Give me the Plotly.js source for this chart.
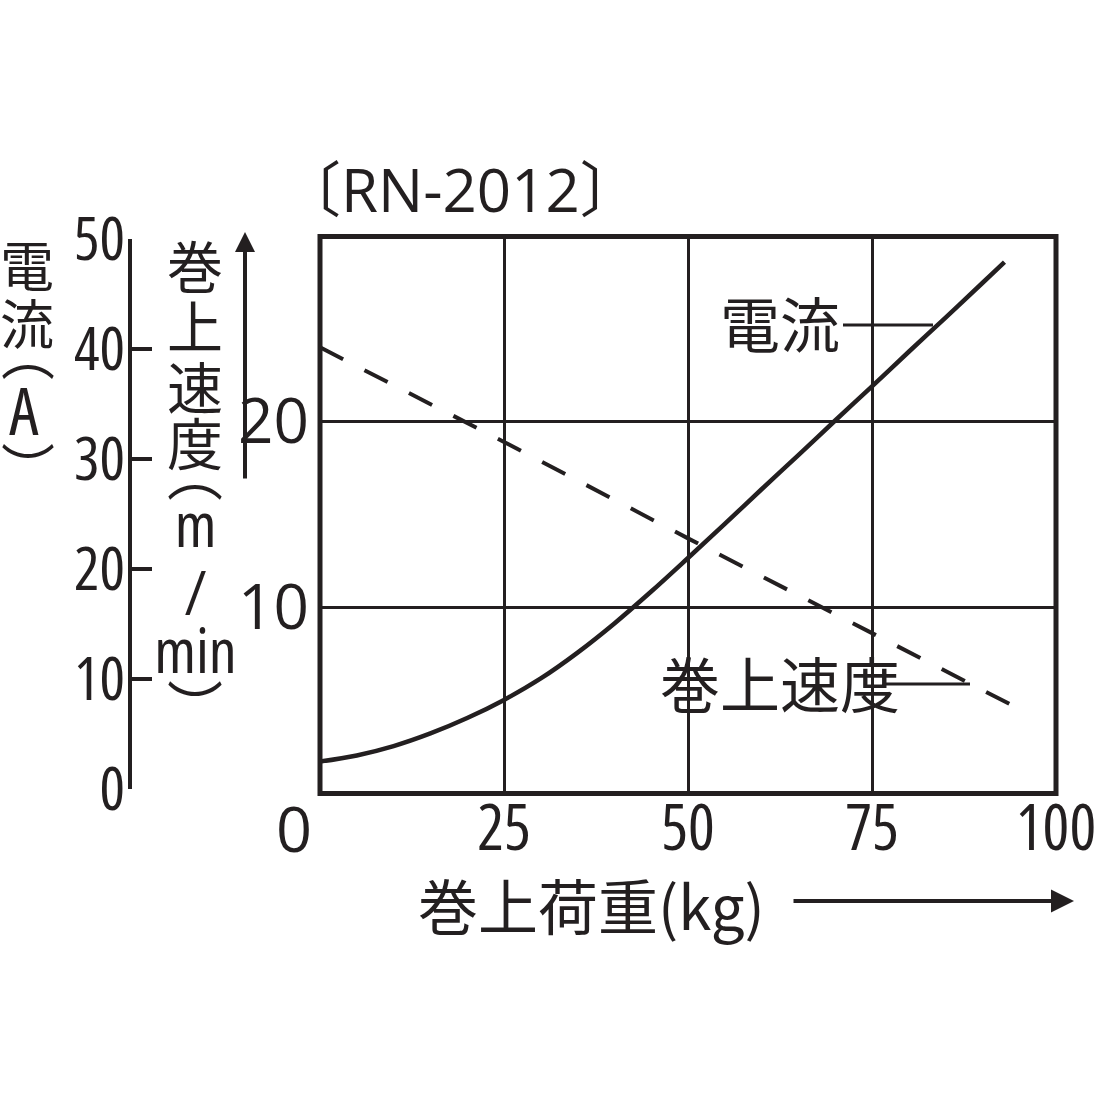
<!DOCTYPE html>
<html>
<head>
<meta charset="utf-8">
<script src="https://cdn.plot.ly/plotly-3.0.1.min.js"></script>
<style>
html,body{margin:0;padding:0;background:#fff;}
#chart{width:1104px;height:1104px;}
#chart svg text{font-stretch:75%;}
#chart g.xtick text{font-stretch:85%;}
#chart g.ytick text{font-stretch:88%;}
#chart g.annotation[data-index="0"] text{font-stretch:88%;}
#chart g.annotation[data-index="1"] text{font-stretch:100%;}
</style>
</head>
<body>
<div id="chart"></div>
<script>
// ---- data ----
const loadKg      = [0, 5, 10, 15, 20, 25, 30, 35, 40, 45, 50, 55, 60, 65, 70, 75, 80, 85, 90, 93];
const currentA    = [2.5, 3.05, 3.9, 5.05, 6.45, 8.1, 10.05, 12.4, 15.05, 17.95, 21.0, 24.1, 27.25, 30.35, 33.5, 36.6, 39.75, 42.85, 46.0, 47.9];
const speedKg     = [0, 25, 50, 75, 96];
const speedMmin   = [24.0, 18.9, 13.7, 8.6, 4.3];
const xTicks      = [25, 50, 75, 100];
const speedTicks  = [10, 20];
const currentTicks= [0, 10, 20, 30, 40, 50];
const title       = '〔RN-2012〕';
const xTitle      = '巻上荷重(kg)';
const currentName = '電流';
const speedName   = '巻上速度';
const currentAxisChars = ['電', '流', '︵', 'A', '︶'];
const speedAxisChars   = ['巻', '上', '速', '度', '︵', 'm', '/', 'min', '︶'];

const W = 1104;
const fx = p => p / W;
const fy = p => 1 - p / W;
const INK = '#231f20';
const LAT = 'Open Sans, Noto Sans CJK JP, sans-serif';
const CJK = 'Noto Sans CJK JP, Noto Sans CJK SC, sans-serif';

const traces = [
  {x: loadKg, y: currentA, yaxis: 'y2', type: 'scatter', mode: 'lines', name: currentName,
   line: {color: INK, width: 4.5, shape: 'spline', smoothing: 1}, hoverinfo: 'skip'},
  {x: speedKg, y: speedMmin, yaxis: 'y', type: 'scatter', mode: 'lines', name: speedName,
   line: {color: INK, width: 4, dash: '26px,24px'}, hoverinfo: 'skip'}
];

const ann = [];
function txt(t, x, y, size, fam, extra) {
  ann.push(Object.assign({text: t, x: fx(x), y: fy(y), xref: 'paper', yref: 'paper',
    xanchor: 'center', yanchor: 'middle', showarrow: false,
    font: {family: fam, size: size, color: INK}}, extra || {}));
}
// title (index 0)
txt(title, 460, 189, 60, LAT);
// x "0" label, offset left of the axis (index 1)
txt('0', 294, 827, 63, LAT);
// x axis title
txt(xTitle, 591, 903, 60, CJK);
// curve labels
txt(currentName, 780, 321, 60, CJK);
txt(speedName, 780, 681, 60, CJK);
// vertical current axis label
const cX = [27, 27, 28, 24, 28];
const cY = [263, 321, 352, 409, 467];
currentAxisChars.forEach((c, i) => {
  const latin = (c === 'A');
  txt(c, cX[i], cY[i], latin ? 66 : 54, latin ? LAT : CJK);
});
// vertical speed axis label
const sY = [263, 324, 384, 441, 471, 523, 591, 649, 704];
speedAxisChars.forEach((c, i) => {
  const latin = /[a-z\/]/.test(c);
  txt(c, 195, sY[i], latin ? 62 : 56, latin ? LAT : CJK);
});
// arrows
ann.push({x: fx(245), y: fy(232), xref: 'paper', yref: 'paper', ax: 0, ay: 248,
  showarrow: true, arrowhead: 2, arrowwidth: 4, arrowsize: 1, arrowcolor: INK, text: ''});
ann.push({x: fx(1074), y: fy(901), xref: 'paper', yref: 'paper', ax: -282, ay: 0,
  showarrow: true, arrowhead: 2, arrowwidth: 4, arrowsize: 1.15, arrowcolor: INK, text: ''});

const shapes = [
  // knockout behind the speed label (hides gridlines only)
  {type: 'rect', xref: 'paper', yref: 'paper', x0: fx(657), x1: fx(880), y0: fy(714), y1: fy(648),
   fillcolor: '#ffffff', line: {width: 0}, layer: 'between'},
  // frame
  {type: 'rect', xref: 'paper', yref: 'paper', x0: fx(320), x1: fx(1056), y0: fy(793.5), y1: fy(236.5),
   line: {color: INK, width: 5}, fillcolor: 'rgba(0,0,0,0)'},
  // leader lines
  {type: 'line', xref: 'paper', yref: 'paper', x0: fx(843), x1: fx(933), y0: fy(325), y1: fy(325),
   line: {color: INK, width: 3}},
  {type: 'line', xref: 'paper', yref: 'paper', x0: fx(885), x1: fx(970), y0: fy(684), y1: fy(684),
   line: {color: INK, width: 3}}
];

const layout = {
  width: W, height: W,
  margin: {l: 0, r: 0, t: 0, b: 0},
  paper_bgcolor: '#ffffff', plot_bgcolor: 'rgba(0,0,0,0)',
  showlegend: false,
  xaxis: {domain: [fx(320), fx(1056)], range: [0, 100], anchor: 'y',
    tickmode: 'array', tickvals: xTicks, ticks: '', showgrid: true, gridcolor: INK, gridwidth: 3,
    zeroline: false, showline: false, automargin: false, ticklabelstandoff: -7,
    ticklabeloverflow: 'allow',
    tickfont: {family: LAT, size: 63, color: INK}, fixedrange: true},
  yaxis: {domain: [fy(792.5), fy(236)], range: [0, 30], anchor: 'x',
    tickmode: 'array', tickvals: speedTicks, ticks: '', showgrid: true, gridcolor: INK, gridwidth: 3,
    zeroline: false, showline: false, automargin: false, ticklabelstandoff: 10,
    tickfont: {family: LAT, size: 62, color: INK}, fixedrange: true},
  yaxis2: {domain: [fy(789), fy(239)], range: [0, 50], anchor: 'free', position: fx(130), side: 'left',
    tickmode: 'array', tickvals: currentTicks, ticks: 'inside', ticklen: 20, tickwidth: 3.5, tickcolor: INK,
    showline: true, linewidth: 4, linecolor: INK, showgrid: false, zeroline: false, automargin: false,
    ticklabelstandoff: -9,
    tickfont: {family: LAT, size: 60, color: INK}, fixedrange: true},
  shapes: shapes,
  annotations: ann
};

Plotly.newPlot('chart', traces, layout, {staticPlot: true, displayModeBar: false});
</script>
</body>
</html>
